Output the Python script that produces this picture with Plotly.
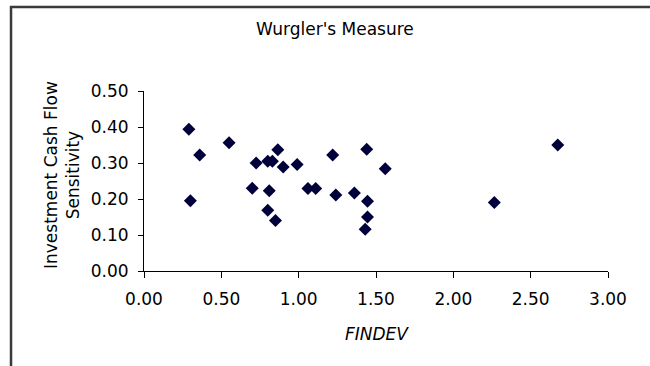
import plotly.graph_objects as go

# Data
findev = [0.29, 0.30, 0.36, 0.55, 0.70, 0.725, 0.80, 0.83, 0.81, 0.80, 0.85, 0.865, 0.90,
          0.99, 1.06, 1.11, 1.22, 1.24, 1.36, 1.44, 1.445, 1.445, 1.43, 1.56, 2.265, 2.675]
sensitivity = [0.394, 0.195, 0.322, 0.356, 0.230, 0.300, 0.305, 0.305, 0.223, 0.169, 0.140, 0.337, 0.289,
               0.296, 0.229, 0.229, 0.322, 0.211, 0.217, 0.338, 0.194, 0.150, 0.116, 0.284, 0.190, 0.350]

x_ticks = [0, 0.5, 1.0, 1.5, 2.0, 2.5, 3.0]
y_ticks = [0, 0.1, 0.2, 0.3, 0.4, 0.5]

title_text = "Wurgler's Measure"
x_title = "FINDEV"
y_title = "Investment Cash Flow<br>Sensitivity"

W, H = 650, 366
L, R, T, B = 144, 42, 91, 95
PW, PH = W - L - R, H - T - B

def px(x):
    return (x - L) / PW

def py(y):
    return (H - B - y) / PH

FONT = "DejaVu Sans"
FS = 17

fig = go.Figure()
fig.add_trace(go.Scatter(
    x=findev, y=sensitivity, mode="markers",
    marker=dict(symbol="diamond", size=10, color="#00003a", line=dict(width=0)),
    showlegend=False, cliponaxis=False,
))

frame_path = "M {:.4f},{:.4f} L {:.4f},{:.4f} L {:.4f},{:.4f}".format(
    px(11), py(380), px(11), py(7), px(680), py(7))

fig.update_layout(
    width=W, height=H,
    margin=dict(l=L, r=R, t=T, b=B, pad=0),
    paper_bgcolor="white", plot_bgcolor="white",
    font=dict(family=FONT, size=FS, color="black"),
    xaxis=dict(range=[0, 3], tickvals=x_ticks, tickformat=".2f", showgrid=False, zeroline=False,
               showline=True, linecolor="black", linewidth=1, ticks="outside", ticklen=6,
               tickcolor="black", tickwidth=1, ticklabelstandoff=7,
               tickfont=dict(family=FONT, size=FS)),
    yaxis=dict(range=[0, 0.5], tickvals=y_ticks, tickformat=".2f", showgrid=False, zeroline=False,
               showline=True, linecolor="black", linewidth=1, ticks="outside", ticklen=5,
               tickcolor="black", tickwidth=1, ticklabelstandoff=6,
               tickfont=dict(family=FONT, size=FS)),
    annotations=[
        dict(text=title_text, xref="paper", yref="paper", x=px(335), y=py(29),
             xanchor="center", yanchor="middle", showarrow=False, font=dict(family=FONT, size=FS)),
        dict(text="<i>" + x_title + "</i>", xref="paper", yref="paper", x=px(377), y=py(334),
             xanchor="center", yanchor="middle", showarrow=False, font=dict(family=FONT, size=FS)),
        dict(text=y_title, xref="paper", yref="paper", x=px(62), y=py(175), textangle=-90,
             xanchor="center", yanchor="middle", showarrow=False, font=dict(family=FONT, size=FS)),
    ],
    shapes=[
        dict(type="path", xref="paper", yref="paper", path=frame_path,
             line=dict(color="#3a3a3a", width=2.5), fillcolor="rgba(0,0,0,0)", layer="below"),
    ],
)

fig.write_html("out.html")
